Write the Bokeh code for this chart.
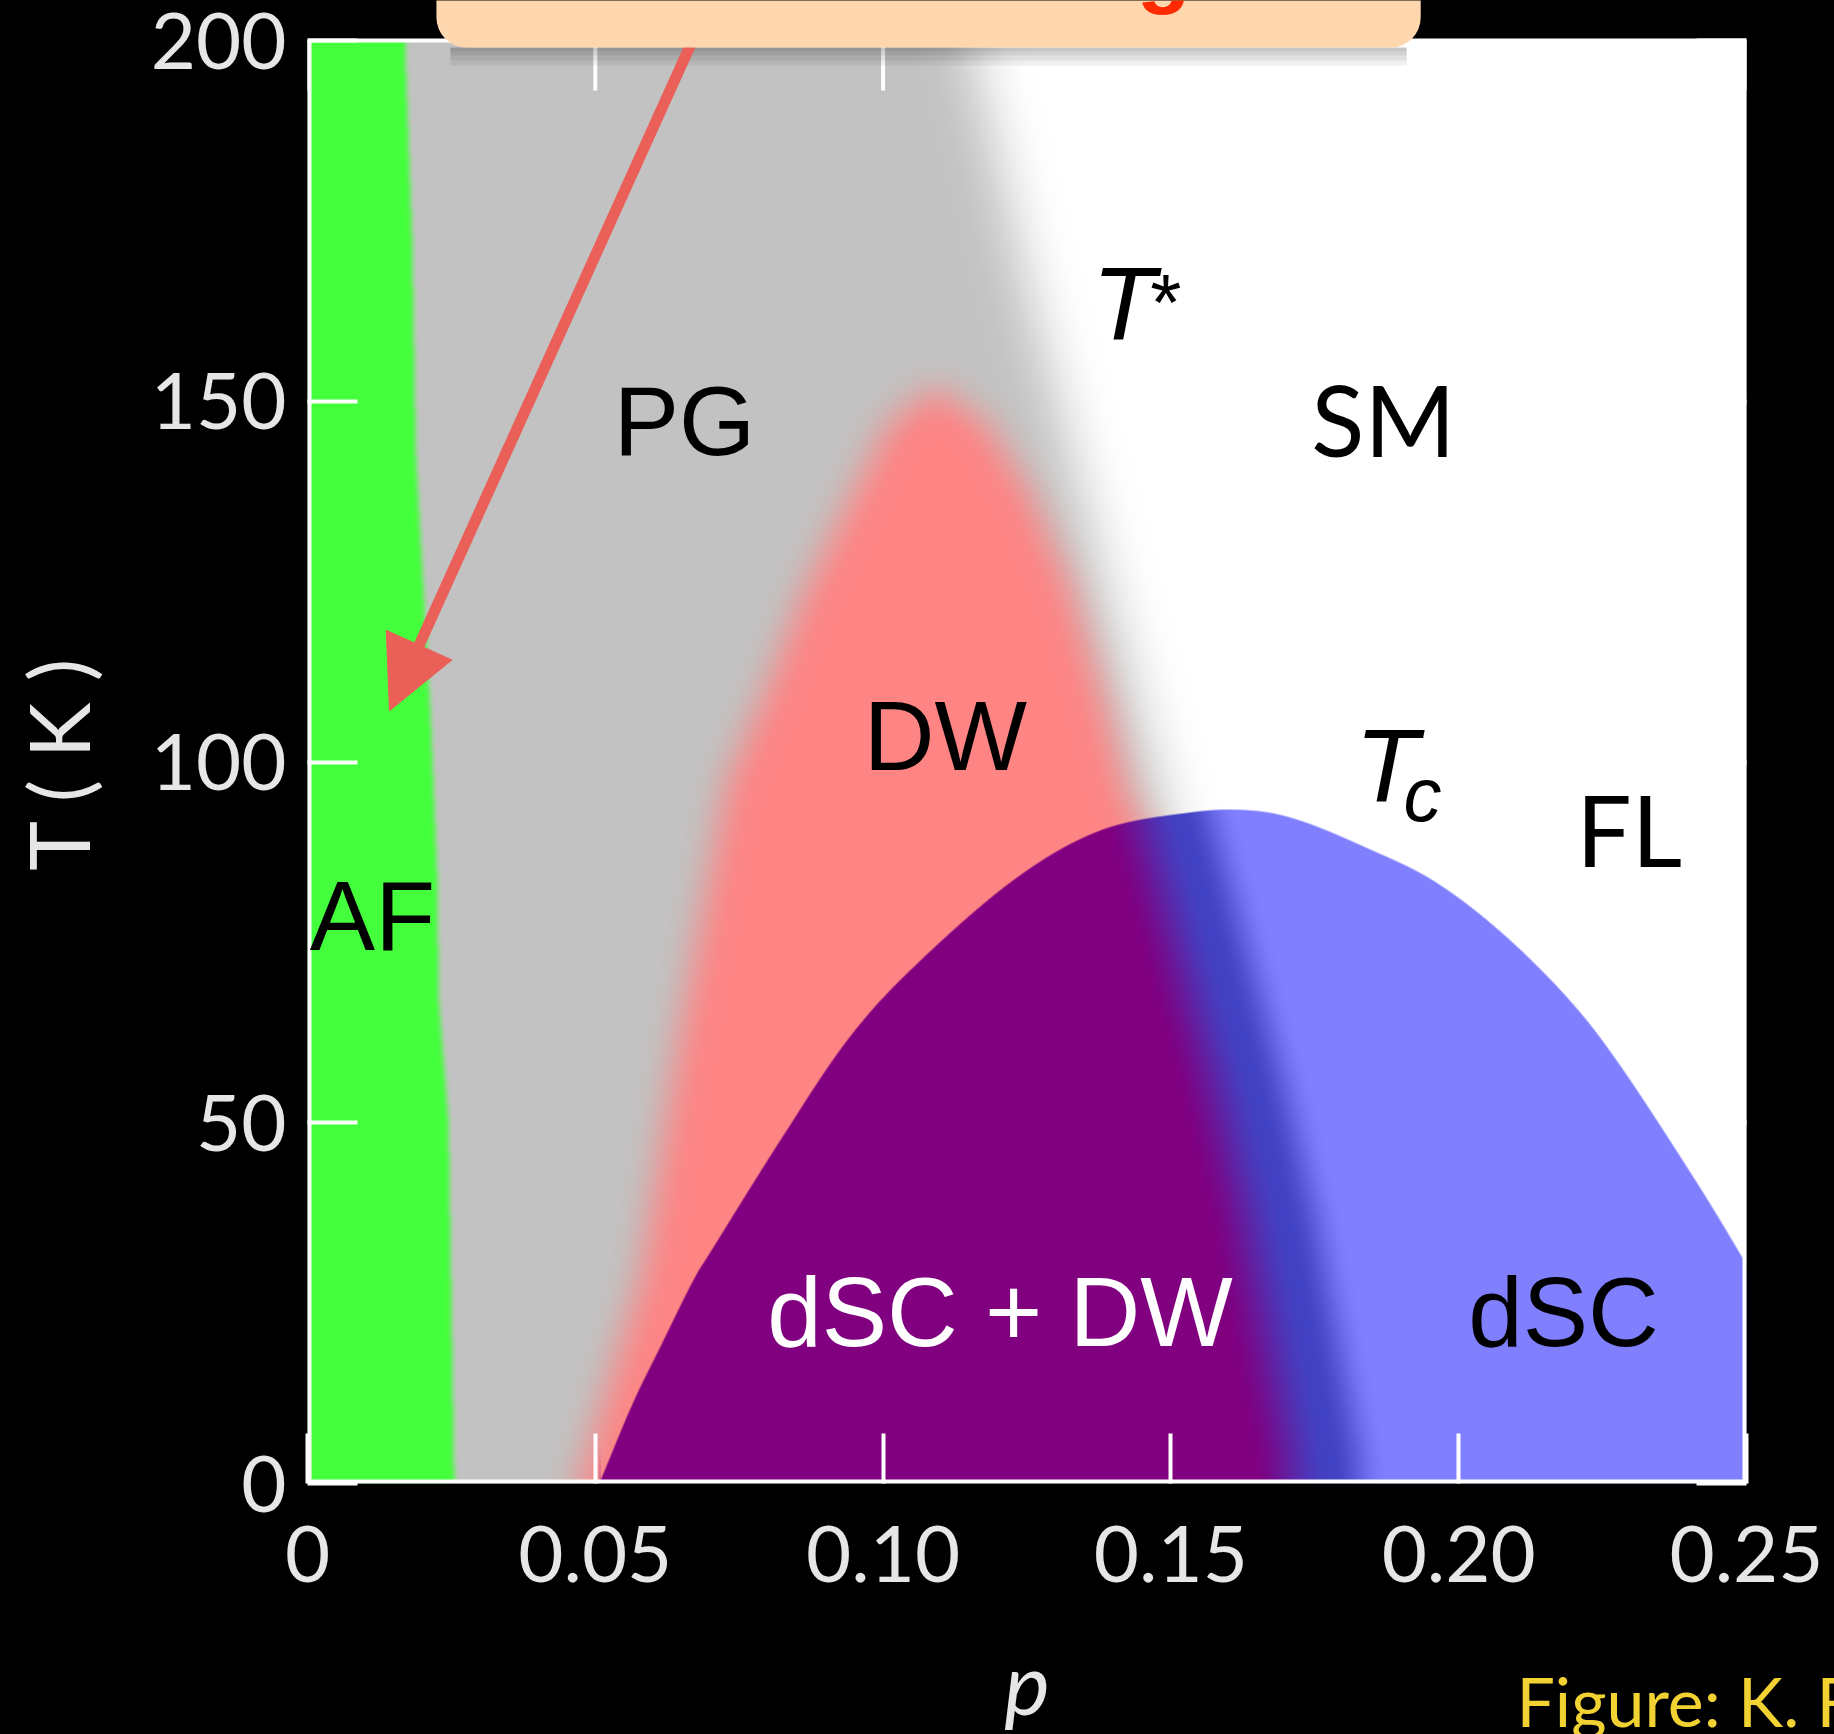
import numpy as np
from bokeh.plotting import figure
from bokeh.models import (Range1d, LinearAxis, FixedTicker, Label, BoxAnnotation, Title,
                          Arrow, NormalHead, PrintfTickFormatter)
from bokeh.embed import file_html
from bokeh.resources import INLINE

# ---------------- data ----------------
p_ticks = [0, 0.05, 0.10, 0.15, 0.20, 0.25]
T_ticks = [0, 50, 100, 150, 200]

# AF (antiferromagnet) boundary  p(T)
af_T = [0, 25, 50, 67, 85, 106, 143, 172, 198, 200]
af_p = [0.0255, 0.0250, 0.0245, 0.0228, 0.0225, 0.0214, 0.0188, 0.0182, 0.0170, 0.0170]

# T* crossover (PG -> SM)  p(T)
ts_T = [0, 50, 93.7, 100.2, 124.5, 149.6, 165, 189.3, 200]
ts_p = [0.172, 0.162, 0.1488, 0.1467, 0.1386, 0.1305, 0.1254, 0.1183, 0.115]

# DW dome: left and right edges p(T)
dwL_T = [0, 2.9, 28.1, 62.8, 97.4, 108, 124.5, 137.5, 147, 152]
dwL_p = [0.047, 0.0482, 0.0578, 0.0648, 0.0729, 0.0787, 0.0868, 0.0949, 0.101, 0.1092]
dwR_T = [0, 90, 95, 108, 124.5, 137.5, 147, 152]
dwR_p = [0.170, 0.146, 0.1427, 0.1386, 0.1325, 0.1254, 0.118, 0.1092]

# DW edge inside the superconducting dome p(T)
band_T = [0, 4.6, 37.4, 55.9, 83.6, 95]
band_p = [0.178, 0.1776, 0.170, 0.1645, 0.155, 0.151]

# Tc dome  T(p)
dome_p = [0.0507, 0.0564, 0.0614, 0.0670, 0.0705, 0.0821, 0.09375, 0.1052, 0.1226,
          0.1377, 0.1533, 0.1637, 0.1724, 0.1840, 0.1955, 0.2071, 0.2188, 0.2280,
          0.2413, 0.2493, 0.2500]
dome_T = [0.0, 10.9, 19.1, 28.1, 32.7, 47.5, 61.4, 71.5, 83.6,
          90.5, 93.0, 93.3, 91.9, 88.1, 83.6, 76.6, 67.4, 58.0,
          41.8, 31.3, 30.2]

# region labels (text baseline positions)
region_text = ["PG", "DW", "AF", "dSC + DW", "dSC"]
region_p = [0.0655, 0.1108, 0.01128, 0.1203, 0.2182]
region_T = [142.6, 98.9, 73.9, 19.1, 19.1]
region_col = ["black", "black", "black", "white", "black"]
gill_text = ["SM", "FL"]
gill_p = [0.1869, 0.2296]
gill_T = [142.3, 85.4]

# ---------------- layout ----------------
BL, BR, BT, BB = 307, 88, 40, 251     # BT: strip above T = 200 that belongs to the frame
NX, NY = 1439, 1443                   # pixels of the p / T data area
P_MAX, T_MAX = 0.25, 200.0
PPT = NY / T_MAX          # px per kelvin
PPP = NX / P_MAX          # px per unit doping
Y_TOP = T_MAX + BT / PPT  # frame reaches up to the canvas top

# ---------------- raster of the phase diagram ----------------
pc = ((np.arange(NX) + 0.5) * P_MAX / NX).astype(np.float32)
tc = ((np.arange(NY) + 0.5) * T_MAX / NY).astype(np.float32)
P = pc[None, :]
TT = tc[:, None]


def box(a, r, axis):
    pad = [(0, 0), (0, 0)]
    pad[axis] = (r + 1, r)
    ap = np.pad(a, pad, mode="edge")
    c = np.cumsum(ap, axis=axis, dtype=np.float64)
    n = a.shape[axis]
    if axis == 0:
        out = (c[2 * r + 1:2 * r + 1 + n, :] - c[0:n, :]) / (2 * r + 1)
    else:
        out = (c[:, 2 * r + 1:2 * r + 1 + n] - c[:, 0:n]) / (2 * r + 1)
    return out.astype(np.float32)


def blur(a, r):
    for _ in range(3):
        a = box(a, r, 0)
        a = box(a, r, 1)
    return a


def smooth(t):
    return t * t * (3 - 2 * t)


def catmull_rom(xs, ys, n=40):
    """smooth curve through the read points (in pixel space)"""
    pts = np.column_stack([np.asarray(xs) * PPP, np.asarray(ys) * PPT])
    ext = np.vstack([2 * pts[0] - pts[1], pts, 2 * pts[-1] - pts[-2]])
    t = np.linspace(0, 1, n, endpoint=False)[:, None]
    segs = []
    for i in range(1, len(ext) - 2):
        p0, p1, p2, p3 = ext[i - 1], ext[i], ext[i + 1], ext[i + 2]
        segs.append(0.5 * ((2 * p1) + (-p0 + p2) * t + (2 * p0 - 5 * p1 + 4 * p2 - p3) * t ** 2
                           + (-p0 + 3 * p1 - 3 * p2 + p3) * t ** 3))
    segs.append(pts[-1][None, :])
    c = np.vstack(segs)
    order = np.argsort(c[:, 0])
    return c[order, 0] / PPP, c[order, 1] / PPT


gray = np.array([194, 194, 194], np.float32)
pink = np.array([255, 132, 132], np.float32)
green = np.array([68, 255, 60], np.float32)
purple = np.array([128, 0, 128], np.float32)
dark = np.array([66, 66, 196], np.float32)
light = np.array([128, 128, 255], np.float32)

m_pg = (P < np.interp(tc, ts_T, ts_p)[:, None]).astype(np.float32)
a_pg = blur(m_pg, 24)[..., None]
pl = np.interp(tc, dwL_T, dwL_p)[:, None]
pr = np.interp(tc, dwR_T, dwR_p)[:, None]
m_dw = ((P > pl) & (P < pr) & (TT <= max(dwL_T))).astype(np.float32)
a_dw = blur(m_dw, 16)[..., None]
m_af = (P < np.interp(tc, af_T, af_p)[:, None]).astype(np.float32)
a_af = blur(m_af, 2)[..., None]

rgb = np.full((NY, NX, 3), 255, np.float32)
rgb = rgb * (1 - a_pg) + gray * a_pg
rgb = rgb * (1 - a_dw) + pink * a_dw
rgb = rgb * (1 - a_af) + green * a_af

# superconducting dome with anti-aliased edge
sp, sT = catmull_rom(dome_p, dome_T)
tcp = np.interp(pc, sp, sT, left=-20, right=-20)
slope = np.gradient(tcp * PPT, pc * PPP)
dist = (tcp[None, :] - TT) * PPT / np.sqrt(1 + slope[None, :] ** 2)
cov = np.clip(dist + 0.5, 0, 1).astype(np.float32)[..., None]

cb = np.interp(tc, band_T, band_p)[:, None]
WL, WR = 0.0145, 0.010
t1 = smooth(np.clip((P - (cb - WL)) / WL, 0, 1))[..., None]
t2 = smooth(np.clip((P - cb) / WR, 0, 1))[..., None]
col_l = purple * (1 - t1) + dark * t1
col_r = dark * (1 - t2) + light * t2
dome_rgb = np.where((P < cb)[..., None], col_l, col_r)
rgb = rgb * (1 - cov) + dome_rgb * cov

img = np.empty((NY, NX), dtype=np.uint32)
view = img.view(dtype=np.uint8).reshape((NY, NX, 4))
view[..., :3] = np.clip(np.round(rgb), 0, 255).astype(np.uint8)
view[..., 3] = 255

# ---------------- figure ----------------
p = figure(frame_width=NX, frame_height=NY + BT, x_range=Range1d(0, P_MAX),
           y_range=Range1d(0, Y_TOP),
           output_backend="svg", toolbar_location=None,
           min_border_left=BL, min_border_right=BR, min_border_top=0, min_border_bottom=BB,
           background_fill_color="black", border_fill_color="black")
p.outline_line_color = None
p.grid.visible = False

try:
    from bokeh.models import GlobalInlineStyleSheet
    p.stylesheets = [GlobalInlineStyleSheet(
        css="html, body { margin: 0 !important; padding: 0; background: #000; overflow: hidden; }")]
except Exception:
    pass

p.image_rgba(image=[img], x=0, y=0, dw=P_MAX, dh=T_MAX)

# white frame of the data area and the mirrored top ticks
p.segment(x0=[0, 0, P_MAX, 0], y0=[0, 0, 0, T_MAX],
          x1=[P_MAX, 0, P_MAX, P_MAX], y1=[0, T_MAX, T_MAX, T_MAX],
          line_color="white", line_width=[8, 8, 8, 4])
p.segment(x0=p_ticks, y0=[T_MAX] * len(p_ticks), x1=p_ticks,
          y1=[T_MAX - 50 / PPT] * len(p_ticks), line_color="white", line_width=4)

TICK_FONT = "Lato"
TICK_COL = "#e6e6e6"


def style_axis(ax, labels=True):
    ax.major_tick_in = 50
    ax.major_tick_out = 0
    ax.minor_tick_line_color = None
    ax.major_tick_line_color = "white"
    ax.major_tick_line_width = 4
    ax.axis_line_color = None
    ax.major_label_text_color = TICK_COL
    ax.major_label_text_font = TICK_FONT
    ax.major_label_text_font_size = "78px" if labels else "0px"
    if not labels:
        ax.major_label_standoff = 0


xa = p.xaxis[0]
xa.ticker = FixedTicker(ticks=p_ticks)
xa.formatter = PrintfTickFormatter(format="%.2f")
xa.major_label_overrides = {0: "0"}
style_axis(xa)
xa.major_label_standoff = 42
xa.axis_label = "p"
xa.axis_label_text_font = TICK_FONT
xa.axis_label_text_font_style = "italic"
xa.axis_label_text_font_size = "86px"
xa.axis_label_text_color = TICK_COL
xa.axis_label_standoff = 45

ya = p.yaxis[0]
ya.ticker = FixedTicker(ticks=T_ticks)
style_axis(ya)
ya.major_label_standoff = 21
ya.axis_label = "T ( K )\u00a0\u00a0"
ya.axis_label_text_font = TICK_FONT
ya.axis_label_text_font_style = "normal"
ya.axis_label_text_font_size = "84px"
ya.axis_label_text_color = TICK_COL
ya.axis_label_standoff = 40

right = LinearAxis(ticker=FixedTicker(ticks=T_ticks))
style_axis(right, labels=False)
p.add_layout(right, "right")

# ---- callout box at the top (mostly above the picture) ----
PEACH = "#ffd7ae"
BOX_L, BOX_R = 0.0224, 0.1934
box_bottom_T = T_MAX - 7 / PPT
for k in (4, 8, 13, 18):
    p.add_layout(BoxAnnotation(left=BOX_L + 14 / PPP, right=BOX_R - 14 / PPP,
                               top=box_bottom_T, bottom=box_bottom_T - k / PPT,
                               fill_color="black", fill_alpha=0.06, line_color=None))

# red arrow from the callout box to the AF region
RED = "#ea5f58"
p.add_layout(Arrow(x_start=0.0665, y_start=box_bottom_T + 2 / PPT, x_end=0.01424, y_end=107.1,
                   line_color=RED, line_width=11,
                   end=NormalHead(size=72, fill_color=RED, line_color=RED, line_width=1)))

box_kw = dict(left=BOX_L, right=BOX_R, top=Y_TOP + 60 / PPT, bottom=box_bottom_T,
              fill_color=PEACH, fill_alpha=1.0, line_color=None)
try:
    callout = BoxAnnotation(border_radius=30, **box_kw)
except Exception:
    callout = BoxAnnotation(**box_kw)
p.add_layout(callout)

# ---- text labels (Bokeh puts the alphabetic baseline ~0.35 em below the anchor) ----
LIB_SHIFT, LATO_SHIFT = 0.3465, 0.387
# only the descender of the callout's text reaches into the picture
p.add_layout(Label(x=0.1534, y=T_MAX + 44 / PPT + LIB_SHIFT * 88 / PPT, text="AF ordering",
                   text_font="Liberation Sans", text_font_style="bold", text_font_size="88px",
                   text_color="#ff2a00", text_align="right", text_baseline="alphabetic"))

for t, x, y, c in zip(region_text, region_p, region_T, region_col):
    p.add_layout(Label(x=x, y=y + LIB_SHIFT * 98 / PPT, text=t, text_font="Liberation Sans",
                       text_font_size="98px", text_color=c, text_align="center",
                       text_baseline="alphabetic"))
for t, x, y in zip(gill_text, gill_p, gill_T):
    p.add_layout(Label(x=x, y=y + LATO_SHIFT * 98 / PPT, text=t, text_font="Lato",
                       text_font_size="98px", text_color="black", text_align="center",
                       text_baseline="alphabetic"))
p.add_layout(Label(x=0.1418, y=158.5 + LIB_SHIFT * 104 / PPT, text="T", text_font="Liberation Sans",
                   text_font_style="italic", text_font_size="104px", text_color="black",
                   text_align="center", text_baseline="alphabetic"))
p.add_layout(Label(x=0.1491, y=159.8 + LIB_SHIFT * 80 / PPT, text="*", text_font="Liberation Sans",
                   text_font_size="80px", text_color="black",
                   text_align="center", text_baseline="alphabetic"))
p.add_layout(Label(x=0.1875, y=94.5 + LIB_SHIFT * 104 / PPT, text="T", text_font="Liberation Sans",
                   text_font_style="italic", text_font_size="104px", text_color="black",
                   text_align="center", text_baseline="alphabetic"))
p.add_layout(Label(x=0.1937, y=91.8 + LIB_SHIFT * 76 / PPT, text="c", text_font="Liberation Sans",
                   text_font_style="italic", text_font_size="76px", text_color="black",
                   text_align="center", text_baseline="alphabetic"))

# credit under the axis (cut by the bottom edge, as in the slide)
credit = Title(text="Figure: K. Fujita et al.\n", align="left", offset=1209,
               text_font="Lato", text_font_style="normal", text_font_size="68px",
               text_color="#f2d232", vertical_align="top", standoff=-152)
p.add_layout(credit, "below")

open("out.html", "w").write(file_html(p, INLINE))
